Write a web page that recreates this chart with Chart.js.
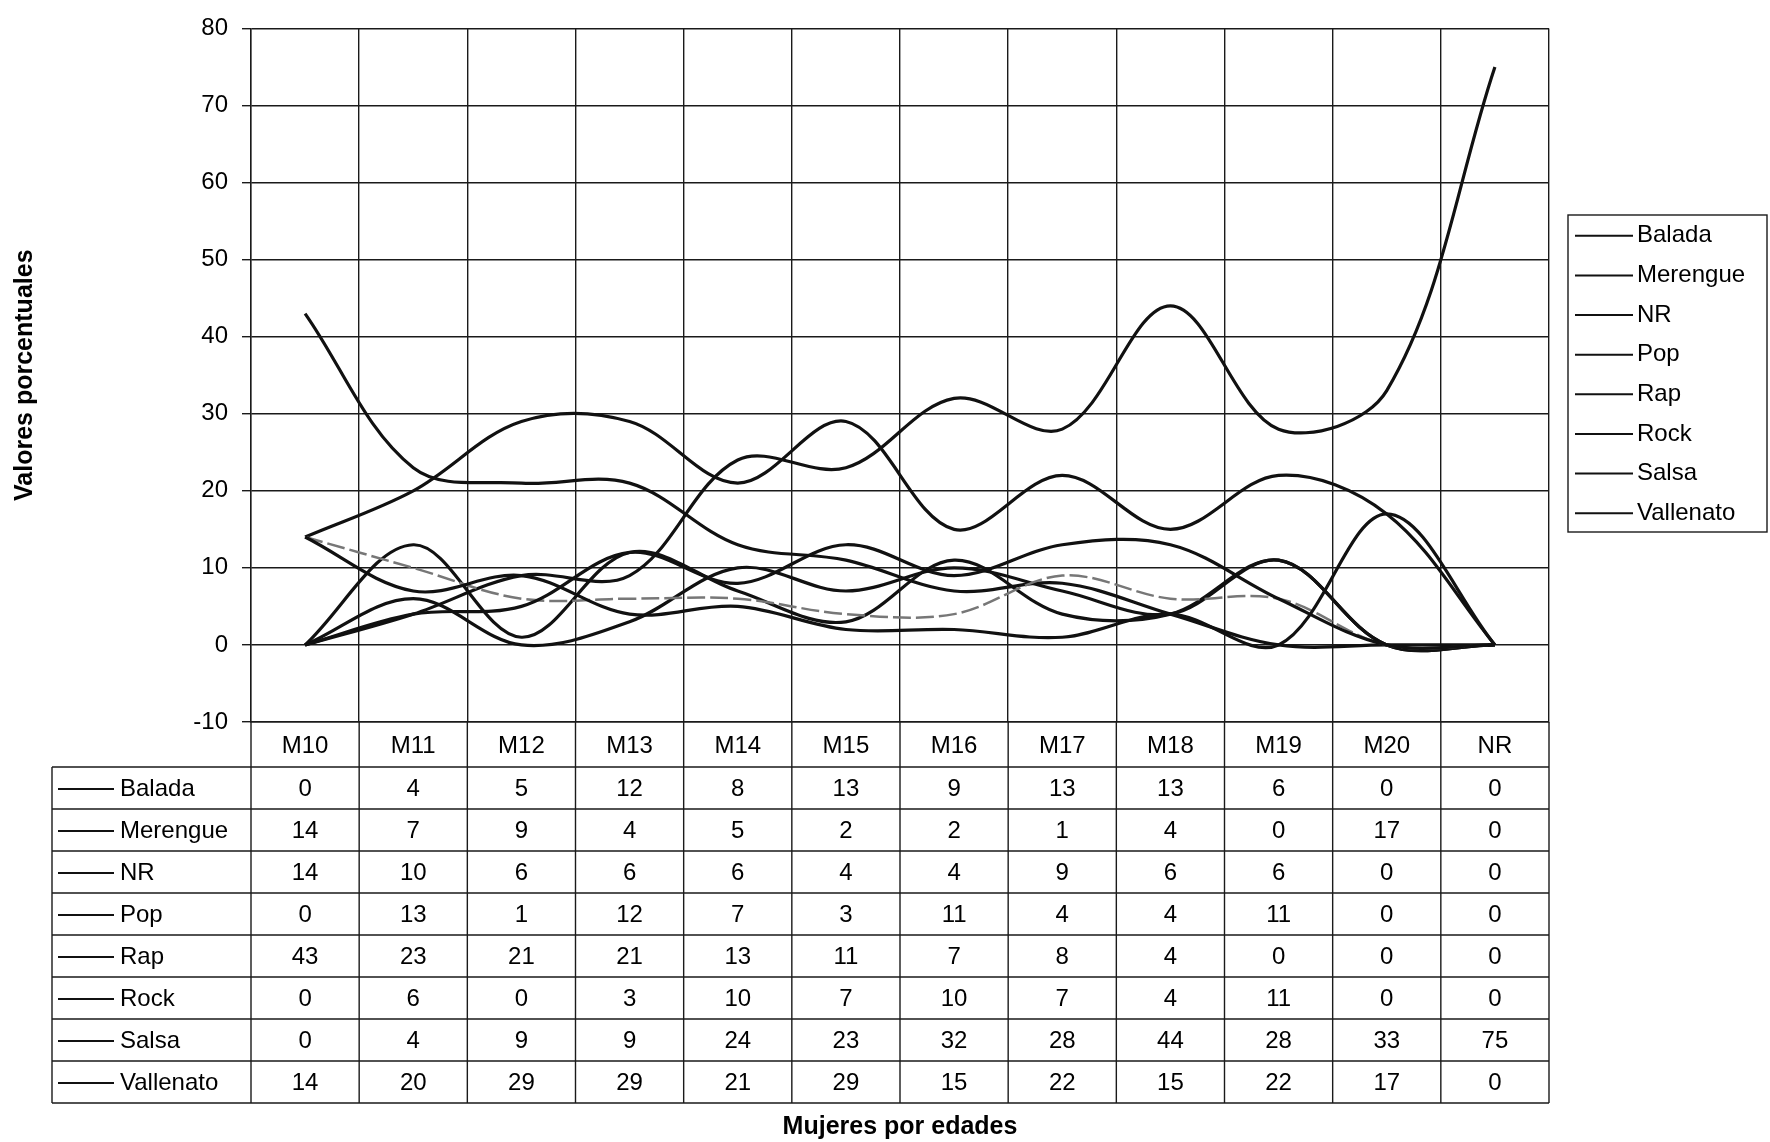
<!DOCTYPE html>
<html>
<head>
<meta charset="utf-8">
<script src="https://cdn.jsdelivr.net/npm/chart.js@4.4.1/dist/chart.umd.min.js"></script>
<style>
  html, body { margin: 0; padding: 0; background: #fff; }
  canvas { display: block; }
</style>
</head>
<body>
<canvas id="generosChart" width="1770" height="1142"></canvas>
<script>
const categories = ['M10', 'M11', 'M12', 'M13', 'M14', 'M15', 'M16', 'M17', 'M18', 'M19', 'M20', 'NR'];
const seriesNames = ['Balada', 'Merengue', 'NR', 'Pop', 'Rap', 'Rock', 'Salsa', 'Vallenato'];
const balada    = [0, 4, 5, 12, 8, 13, 9, 13, 13, 6, 0, 0];
const merengue  = [14, 7, 9, 4, 5, 2, 2, 1, 4, 0, 17, 0];
const noResp    = [14, 10, 6, 6, 6, 4, 4, 9, 6, 6, 0, 0];
const pop       = [0, 13, 1, 12, 7, 3, 11, 4, 4, 11, 0, 0];
const rap       = [43, 23, 21, 21, 13, 11, 7, 8, 4, 0, 0, 0];
const rock      = [0, 6, 0, 3, 10, 7, 10, 7, 4, 11, 0, 0];
const salsa     = [0, 4, 9, 9, 24, 23, 32, 28, 44, 28, 33, 75];
const vallenato = [14, 20, 29, 29, 21, 29, 15, 22, 15, 22, 17, 0];
const yMin = -10, yMax = 80, yStep = 10;

const seriesValues = [balada, merengue, noResp, pop, rap, rock, salsa, vallenato];
const FONT = '"Liberation Sans", Arial, sans-serif';
const INK = '#1a1a1a';

const datasets = seriesNames.map(function (name, i) {
  const isNR = name === 'NR';
  return {
    label: name,
    data: seriesValues[i],
    borderColor: isNR ? '#777' : '#111',
    borderWidth: isNR ? 2.5 : 3.2,
    borderDash: isNR ? [18, 5] : [],
    pointRadius: 0,
    tension: 0.35,
    fill: false
  };
});

// tabla de datos, leyenda y titulo del eje x
const tablePlugin = {
  id: 'tablaDatos',
  afterDraw(chart) {
    const ctx = chart.ctx;
    const x = chart.scales.x;
    const area = chart.chartArea;
    const half = (x.getPixelForValue(1) - x.getPixelForValue(0)) / 2;
    const rowH = 42;
    const tableTop = x.bottom;
    const tableLeft = 52;
    const sets = chart.data.datasets;
    const tableBottom = tableTop + rowH * sets.length;

    ctx.save();
    ctx.strokeStyle = INK;
    ctx.lineWidth = 1.4;
    ctx.beginPath();
    for (let r = 0; r <= sets.length; r++) {
      const yy = tableTop + r * rowH;
      ctx.moveTo(tableLeft, yy);
      ctx.lineTo(area.right, yy);
    }
    ctx.moveTo(tableLeft, tableTop);
    ctx.lineTo(tableLeft, tableBottom);
    for (let i = 0; i <= categories.length; i++) {
      const bx = i < categories.length ? x.getPixelForValue(i) - half : x.getPixelForValue(i - 1) + half;
      ctx.moveTo(bx, area.bottom);
      ctx.lineTo(bx, tableBottom);
    }
    ctx.stroke();

    ctx.font = '24px ' + FONT;
    ctx.fillStyle = '#000';
    ctx.textBaseline = 'middle';
    sets.forEach(function (ds, r) {
      const cy = tableTop + r * rowH + rowH / 2 + 1;
      ctx.beginPath();
      ctx.lineWidth = 2;
      ctx.strokeStyle = '#111';
      ctx.moveTo(58, cy);
      ctx.lineTo(114, cy);
      ctx.stroke();
      ctx.textAlign = 'left';
      ctx.fillText(ds.label, 120, cy);
      ctx.textAlign = 'center';
      ds.data.forEach(function (v, i) {
        ctx.fillText(String(v), x.getPixelForValue(i), cy);
      });
    });

    // leyenda
    const lg = { left: 1568, top: 215, right: 1767, bottom: 532 };
    ctx.lineWidth = 1.4;
    ctx.strokeStyle = INK;
    ctx.strokeRect(lg.left, lg.top, lg.right - lg.left, lg.bottom - lg.top);
    const step = (lg.bottom - lg.top) / sets.length;
    sets.forEach(function (ds, r) {
      const cy = lg.top + step * r + step / 2 + 1;
      ctx.beginPath();
      ctx.lineWidth = 2;
      ctx.strokeStyle = '#111';
      ctx.moveTo(lg.left + 7, cy);
      ctx.lineTo(lg.left + 65, cy);
      ctx.stroke();
      ctx.textAlign = 'left';
      ctx.fillText(ds.label, lg.left + 69, cy);
    });

    ctx.font = 'bold 25px ' + FONT;
    ctx.textAlign = 'center';
    ctx.fillText('Mujeres por edades', (area.left + area.right) / 2, 1127);
    ctx.restore();
  }
};

const ctx = document.getElementById('generosChart').getContext('2d');
const chart = new Chart(ctx, {
  type: 'line',
  data: { labels: categories, datasets: datasets },
  options: {
    responsive: false,
    animation: false,
    devicePixelRatio: 1,
    layout: { padding: { left: 0, top: 23, right: 221, bottom: 375 } },
    plugins: {
      legend: { display: false },
      tooltip: { enabled: false }
    },
    scales: {
      x: {
        offset: true,
        grid: { offset: true, color: INK, lineWidth: 1.4, drawTicks: false },
        border: { color: INK, width: 1.4 },
        ticks: { color: '#000', font: { family: FONT, size: 24 }, padding: 10, maxRotation: 0 },
        afterFit(scale) { scale.height = 45; }
      },
      y: {
        min: yMin,
        max: yMax,
        ticks: { stepSize: yStep, color: '#000', font: { family: FONT, size: 24 }, padding: 14 },
        grid: { color: INK, lineWidth: 1.4, tickLength: 9 },
        border: { color: INK, width: 1.4 },
        title: {
          display: true,
          text: 'Valores porcentuales',
          color: '#000',
          font: { family: FONT, size: 25, weight: 'bold' },
          padding: { top: 10, bottom: 0 }
        },
        afterFit(scale) { scale.width = 251; }
      }
    }
  },
  plugins: [tablePlugin]
});
</script>
</body>
</html>
